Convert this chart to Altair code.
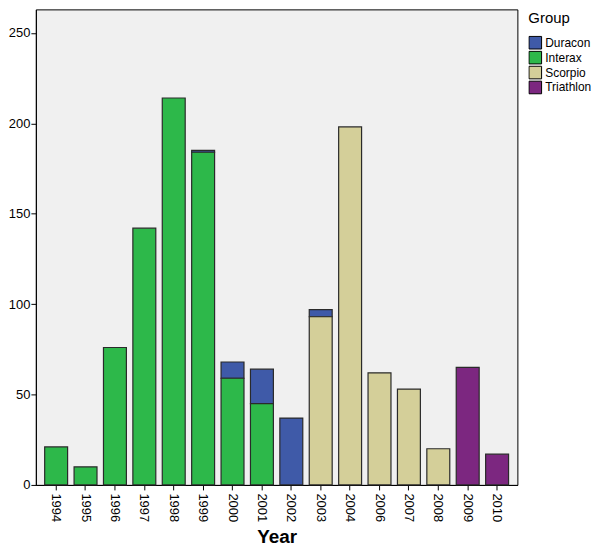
import altair as alt
import pandas as pd

years = ["1994","1995","1996","1997","1998","1999","2000","2001","2002","2003","2004","2006","2007","2008","2009","2010"]
duracon   = [0, 0, 0, 0, 0, 1, 9, 19, 37, 4, 0, 0, 0, 0, 0, 0]
interax   = [21, 10, 76, 142, 214, 184, 59, 45, 0, 0, 0, 0, 0, 0, 0, 0]
scorpio   = [0, 0, 0, 0, 0, 0, 0, 0, 0, 93, 198, 62, 53, 20, 0, 0]
triathlon = [0, 0, 0, 0, 0, 0, 0, 0, 0, 0, 0, 0, 0, 0, 65, 17]

groups = ["Duracon", "Interax", "Scorpio", "Triathlon"]
colors = ["#3f5aa8", "#2db84a", "#d4cf99", "#7c2780"]
stack_order = {"Duracon": 1, "Interax": 0, "Scorpio": 0, "Triathlon": 0}

rows = []
for g, vals in zip(groups, [duracon, interax, scorpio, triathlon]):
    for y, v in zip(years, vals):
        if v > 0:
            rows.append({"Year": y, "Group": g, "Count": v, "ord": stack_order[g]})
df = pd.DataFrame(rows)

chart = alt.Chart(df).mark_bar(stroke="#2a2a2a", strokeWidth=1.2).encode(
    x=alt.X("Year:N", sort=years, scale=alt.Scale(paddingInner=0.22, paddingOuter=0.3),
            axis=alt.Axis(title="Year", labelAngle=90, labelFontSize=13, labelColor="#000",
                          titleFontSize=19, titleFontWeight="bold", titleColor="#000",
                          domainColor="#000", tickColor="#000", tickSize=5, labelPadding=3,
                          labelFont="Liberation Sans", titleFont="Liberation Sans", titlePadding=6)),
    y=alt.Y("Count:Q", stack="zero", scale=alt.Scale(domain=[0, 263], nice=False),
            axis=alt.Axis(title=None, values=[0, 50, 100, 150, 200, 250], grid=False,
                          labelFontSize=13, labelColor="#000", domainColor="#000",
                          tickColor="#000", tickSize=5, labelFont="Liberation Sans", labelPadding=1)),
    color=alt.Color("Group:N", scale=alt.Scale(domain=groups, range=colors),
                    legend=alt.Legend(title="Group", titleFontSize=15, titleFontWeight="normal",
                                      labelFontSize=12, symbolType="square", symbolSize=160,
                                      symbolStrokeColor="#000", symbolStrokeWidth=1,
                                      labelFont="Liberation Sans", titleFont="Liberation Sans",
                                      titleColor="#000", labelColor="#000",
                                      orient="none", legendX=495, legendY=2,
                                      rowPadding=0, clipHeight=15, titlePadding=9,
                                      labelOffset=3)),
    order=alt.Order("ord:Q", sort="ascending"),
).properties(
    width=484, height=478, padding={"left": 0, "top": 0, "right": 0, "bottom": 0}
).configure_view(
    fill="#f0f0f0", stroke="#000", strokeWidth=1
)

chart.save("out.html", embed_options={"renderer": "svg", "actions": False})
